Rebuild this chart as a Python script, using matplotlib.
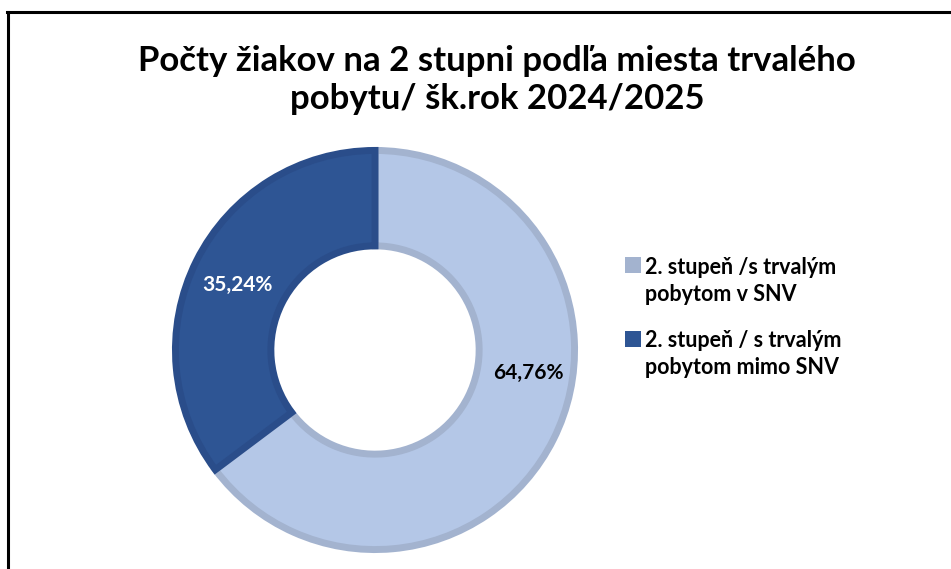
import matplotlib
matplotlib.use("Agg")
import matplotlib.pyplot as plt
from matplotlib.lines import Line2D
from matplotlib.patches import Rectangle

categories = ["2. stupeň /s trvalým\npobytom v SNV", "2. stupeň / s trvalým\npobytom mimo SNV"]
values = [64.76, 35.24]
value_labels = ["64,76%", "35,24%"]
fills = ["#b4c7e7", "#2e5594"]
edges = ["#a3b3cf", "#2a4d8a"]
title = "Počty žiakov na 2 stupni podľa miesta trvalého\npobytu/ šk.rok 2024/2025"

W, H = 951, 569
fig = plt.figure(figsize=(W / 100, H / 100), dpi=100)
fam = ["Lato", "DejaVu Sans"]

# pie axes
cx, cy, R = 375, 350, 203
ax = fig.add_axes([(cx - R) / W, (H - cy - R) / H, 2 * R / W, 2 * R / H])
wedges, _ = ax.pie(values, colors=fills, startangle=90, counterclock=False,
                   radius=0.983, wedgeprops=dict(width=0.47, edgecolor=None, linewidth=5))
for w, e in zip(wedges, edges):
    w.set_edgecolor(e)
    w.set_joinstyle("miter")
ax.set_xlim(-1, 1)
ax.set_ylim(-1, 1)
ax.axis("off")

ax.text(0.754, -0.113, value_labels[0], ha="center", va="center", fontsize=15,
        fontweight="bold", color="black", family=fam)
ax.text(-0.68, 0.32, value_labels[1], ha="center", va="center", fontsize=15,
        fontweight="bold", color="white", family=fam)

fig.text(0.523, 1 - 80 / H, title, ha="center", va="center", fontsize=25,
         fontweight="bold", family=fam, linespacing=1.2)

# legend
sq_y = [265, 339]
txt_y = [281, 354]
for i, (lab, c) in enumerate(zip(categories, fills)):
    fig.patches.append(Rectangle((625 / W, 1 - (sq_y[i] + 8) / H), 16 / W, 16 / H,
                                 transform=fig.transFigure, facecolor=edges[i] if i == 0 else c,
                                 edgecolor="none", linewidth=0))
    fig.text(645 / W, 1 - txt_y[i] / H, lab, ha="left", va="center", fontsize=15.5,
             fontweight="bold", family=fam, linespacing=1.4)

# frame lines
fig.add_artist(Line2D([7.5 / W, 7.5 / W], [0, 1 - 12 / H], color="black", lw=2.2,
                      transform=fig.transFigure))
fig.add_artist(Line2D([6.5 / W, 1], [1 - 12 / H, 1 - 12 / H], color="black", lw=2.2,
                      transform=fig.transFigure))

fig.savefig("out.png", dpi=100)
